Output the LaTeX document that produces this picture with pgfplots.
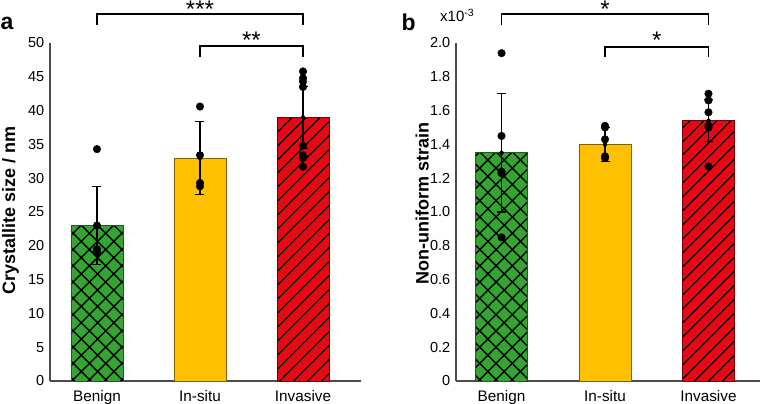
\documentclass[border=0pt]{standalone}
\usepackage{fontspec}
\setmainfont{Liberation Sans}
\usepackage{pgfplots}
\pgfplotsset{compat=1.18}
\usetikzlibrary{patterns.meta}

\definecolor{bgreen}{RGB}{52,165,50}
\definecolor{byellow}{RGB}{255,192,0}
\definecolor{bred}{RGB}{232,8,20}

\pgfplotsset{
 mybase/.style={
  scale only axis, axis x line=bottom, axis y line=left,
  axis line style={-, line width=1.3pt, black!70},
  xtick={0,1,2}, xticklabels={Benign,In-situ,Invasive},
  major tick length=0pt,
  yticklabel style={font=\fontsize{14.5}{16}\selectfont, inner sep=0pt, xshift=-5.5pt},
  xticklabel style={font=\fontsize{15.3}{17}\selectfont, inner sep=0pt, yshift=-9pt},
  /pgf/number format/assume math mode=true,
  clip=false, height=338pt,
 },
 errb/.style={only marks, mark=none, error bars/.cd, y dir=both, y explicit,
   error bar style={line width=1.2pt, black},
   error mark options={line width=1.2pt, mark size=4.5pt, black, rotate=90}},
 dots/.style={only marks, mark=*, mark size=3.8pt, black, mark options={fill=black}},
 greenbar/.style={ybar, bar width=52pt, fill=bgreen, draw=bgreen!55!black, line width=0.8pt,
   postaction={pattern={Lines[angle=45,distance=11.5pt,line width=1.4pt]}, pattern color=black},
   postaction={pattern={Lines[angle=-45,distance=11.5pt,line width=1.4pt]}, pattern color=black}},
 yellowbar/.style={ybar, bar width=52pt, fill=byellow, draw=byellow!50!black, line width=0.8pt},
 redbar/.style={ybar, bar width=52pt, fill=bred, draw=bred!45!black, line width=0.8pt,
   postaction={pattern={Lines[angle=45,distance=10.5pt,line width=1.4pt]}, pattern color=black}},
}

\begin{document}
\begin{tikzpicture}
% ---------- panel a ----------
\begin{axis}[mybase, at={(50pt,23pt)}, anchor=south west, width=311pt,
  xmin=-0.456, xmax=2.563, ymin=0, ymax=50, ytick={0,5,...,50}]
\addplot[greenbar] coordinates {(0,23)};
\addplot[yellowbar] coordinates {(1,33)};
\addplot[redbar] coordinates {(2,39)};
\addplot[errb] coordinates {(0,23) +- (0,5.8) (1,33) +- (0,5.4) (2,39) +- (0,4.6)};
\addplot[dots] coordinates {
 (0,34.3) (0,23.0) (0,19.5) (0,19.0)
 (1,40.6) (1,33.4) (1,29.3) (1,28.8)
 (2,45.8) (2,44.8) (2,44.3) (2,43.5) (2,34.8) (2,33.4) (2,33.0) (2,31.7)};
\draw[line width=1.8pt] (axis cs:0,52.7) -- (axis cs:0,54.3) -- (axis cs:2,54.3) -- (axis cs:2,52.7);
\draw[line width=1.8pt] (axis cs:1,47.9) -- (axis cs:1,49.6) -- (axis cs:2,49.6) -- (axis cs:2,47.9);
\node[anchor=north, inner sep=0pt, font=\fontsize{24}{26}\selectfont] at (axis cs:1,56.2) {***};
\node[anchor=north, inner sep=0pt, font=\fontsize{24}{26}\selectfont] at (axis cs:1.5,51.6) {**};
\end{axis}
% ---------- panel b ----------
\begin{axis}[mybase, at={(456pt,23pt)}, anchor=south west, width=304pt,
  xmin=-0.44, xmax=2.498, ymin=0, ymax=2, ytick={0,0.2,...,2.01},
  yticklabels={0,0.2,0.4,0.6,0.8,1.0,1.2,1.4,1.6,1.8,2.0}]
\addplot[greenbar] coordinates {(0,1.35)};
\addplot[yellowbar] coordinates {(1,1.40)};
\addplot[redbar] coordinates {(2,1.54)};
\addplot[errb] coordinates {(0,1.35) +- (0,0.35) (1,1.40) +- (0,0.10) (2,1.54) +- (0,0.125)};
\addplot[dots] coordinates {
 (0,1.94) (0,1.45) (0,1.24) (0,1.23) (0,0.85)
 (1,1.51) (1,1.50) (1,1.43) (1,1.33) (1,1.32)
 (2,1.70) (2,1.66) (2,1.59) (2,1.51) (2,1.50) (2,1.27)};
\draw[line width=1.8pt] (axis cs:0,2.107) -- (axis cs:0,2.17) -- (axis cs:2,2.17) -- (axis cs:2,2.107);
\draw[line width=1.8pt] (axis cs:1,1.917) -- (axis cs:1,1.978) -- (axis cs:2,1.978) -- (axis cs:2,1.917);
\node[anchor=north, inner sep=0pt, font=\fontsize{24}{26}\selectfont] at (axis cs:1,2.248) {*};
\node[anchor=north, inner sep=0pt, font=\fontsize{24}{26}\selectfont] at (axis cs:1.5,2.065) {*};
\end{axis}
% ---------- labels ----------
\node[anchor=base west, inner sep=0pt, font=\bfseries\fontsize{23}{26}\selectfont] at (0.5pt,374pt) {a};
\node[anchor=base west, inner sep=0pt, font=\bfseries\fontsize{23}{26}\selectfont] at (401.5pt,373pt) {b};
\node[rotate=90, anchor=base, inner sep=0pt, font=\bfseries\fontsize{18}{20}\selectfont] at (15pt,193.5pt) {Crystallite size / nm};
\node[rotate=90, anchor=base, inner sep=0pt, font=\bfseries\fontsize{18}{20}\selectfont] at (428.5pt,200.5pt) {Non-uniform strain};
\node[anchor=base west, inner sep=0pt, font=\fontsize{15}{17}\selectfont] at (440pt,382pt) {x10\textsuperscript{-3}};
\pgfresetboundingbox
\path[use as bounding box] (0,0) rectangle (760pt,404pt);
\end{tikzpicture}
\end{document}
